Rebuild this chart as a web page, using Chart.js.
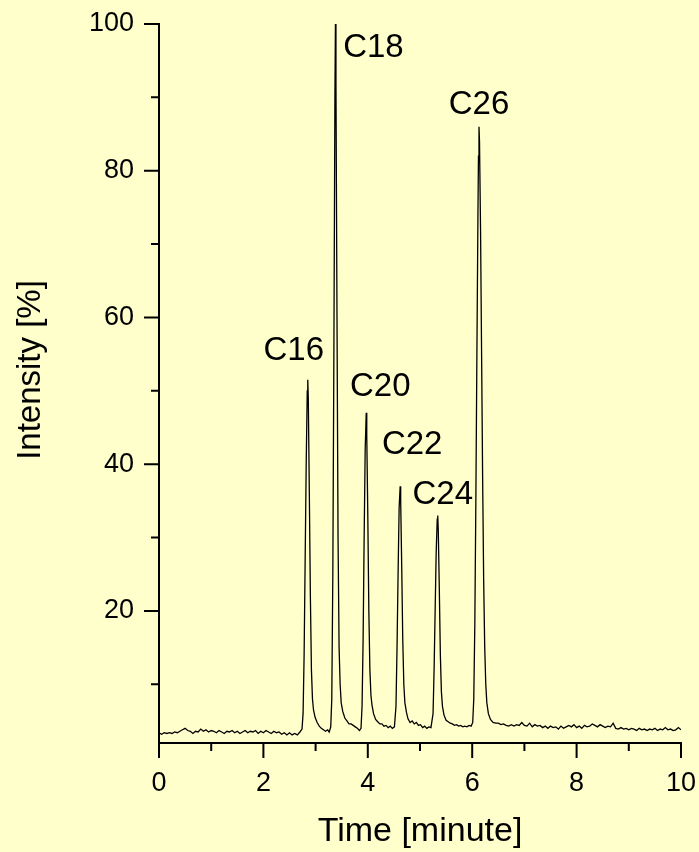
<!DOCTYPE html>
<html>
<head>
<meta charset="utf-8">
<title>Chromatogram</title>
<script src="https://cdn.jsdelivr.net/npm/chart.js@4"></script>
<style>
  html, body { margin: 0; padding: 0; background: #FFFFCC; }
  canvas { display: block; }
</style>
</head>
<body>
<canvas id="chromChart" width="699" height="852"></canvas>
<script>
// retention time [minute]
const times = [
  0.00, 0.05, 0.10, 0.15, 0.20, 0.25, 0.30, 0.35, 0.40, 0.45,
  0.50, 0.55, 0.60, 0.65, 0.70, 0.75, 0.80, 0.85, 0.90, 0.95,
  1.00, 1.05, 1.10, 1.15, 1.20, 1.25, 1.30, 1.35, 1.40, 1.45,
  1.50, 1.55, 1.60, 1.65, 1.70, 1.75, 1.80, 1.85, 1.90, 1.95,
  2.00, 2.05, 2.10, 2.15, 2.20, 2.25, 2.30, 2.35, 2.40, 2.45,
  2.50, 2.55, 2.60, 2.65, 2.70, 2.74,
  // C16
  2.76, 2.78, 2.80, 2.82, 2.84, 2.85, 2.86, 2.88, 2.90, 2.92, 2.94, 2.96, 2.99,
  3.03, 3.07, 3.11, 3.15, 3.19, 3.23, 3.26, 3.29,
  // C18
  3.31, 3.33, 3.35, 3.37, 3.38, 3.39, 3.41, 3.43, 3.45, 3.47, 3.49, 3.52,
  3.56, 3.60, 3.64, 3.68, 3.72, 3.76, 3.80, 3.84, 3.87,
  // C20
  3.89, 3.91, 3.93, 3.95, 3.97, 3.98, 4.00, 4.02, 4.04, 4.06, 4.08, 4.11,
  4.15, 4.19, 4.23, 4.27, 4.31, 4.35, 4.39, 4.43, 4.47, 4.51,
  // C22
  4.54, 4.56, 4.58, 4.60, 4.62, 4.63, 4.65, 4.67, 4.69, 4.71, 4.74, 4.77,
  4.81, 4.85, 4.89, 4.93, 4.97, 5.01, 5.05, 5.09, 5.13, 5.17, 5.21,
  // C24
  5.25, 5.27, 5.29, 5.31, 5.33, 5.34, 5.35, 5.37, 5.39, 5.41, 5.43, 5.46,
  5.50, 5.54, 5.58, 5.62, 5.66, 5.70, 5.74, 5.78, 5.82, 5.86, 5.90, 5.94, 5.98, 6.01,
  // C26
  6.03, 6.05, 6.07, 6.09, 6.11, 6.12, 6.13, 6.14, 6.16, 6.18, 6.20, 6.22, 6.24,
  6.26, 6.28, 6.31, 6.35, 6.40, 6.45,
  6.50, 6.55, 6.60, 6.65, 6.70, 6.75, 6.80, 6.85, 6.90, 6.95,
  7.00, 7.05, 7.10, 7.15, 7.20, 7.25, 7.30, 7.35, 7.40, 7.45,
  7.50, 7.55, 7.60, 7.65, 7.70, 7.75, 7.80, 7.85, 7.90, 7.95,
  8.00, 8.05, 8.10, 8.15, 8.20, 8.25, 8.30, 8.35, 8.40, 8.45,
  8.50, 8.55, 8.60, 8.65, 8.70, 8.75, 8.80, 8.85, 8.90, 8.95,
  9.00, 9.05, 9.10, 9.15, 9.20, 9.25, 9.30, 9.35, 9.40, 9.45,
  9.50, 9.55, 9.60, 9.65, 9.70, 9.75, 9.80, 9.85, 9.90, 9.95, 10.00
];

// intensity [%]
const intensity = [
  3.4, 3.2, 3.4, 3.3, 3.4, 3.3, 3.5, 3.4, 3.6, 3.8,
  4.0, 3.7, 3.6, 3.3, 3.6, 3.5, 3.9, 3.6, 3.8, 3.5,
  3.7, 3.6, 3.4, 3.7, 3.5, 3.3, 3.6, 3.5, 3.7, 3.4,
  3.6, 3.3, 3.5, 3.7, 3.4, 3.6, 3.5, 3.7, 3.3, 3.6,
  3.4, 3.7, 3.5, 3.3, 3.6, 3.4, 3.5, 3.2, 3.4, 3.1,
  3.4, 3.1, 3.3, 3.1, 3.5, 3.9,
  6, 14, 27, 40, 50, 51.5, 49, 36, 22, 12, 8, 6.5, 5.5,
  4.8, 4.3, 4.0, 3.8, 3.6, 3.8, 3.5, 4.2,
  8, 25, 55, 90, 100, 92, 60, 30, 15, 10, 7.5, 6.3,
  5.4, 5.0, 4.6, 4.6, 4.4, 4.2, 4.0, 3.7, 4.0,
  7, 16, 30, 42, 47, 44, 33, 20, 12, 8.5, 7.2, 6.0,
  5.2, 4.9, 4.6, 4.6, 4.3, 4.4, 4.1, 4.3, 4.0, 4.2,
  7, 15, 25, 34, 37, 35, 26, 16, 10, 7.5, 6.2, 5.3,
  4.8, 5.0, 4.6, 4.8, 4.4, 4.5, 4.1, 4.3, 4.0, 4.2, 4.1,
  6, 12, 20, 28, 32.5, 33, 31, 23, 14, 9, 7, 5.8,
  5.1, 4.9, 4.7, 4.6, 4.4, 4.5, 4.3, 4.4, 4.2, 4.3, 4.2, 4.4, 4.3, 4.8,
  8, 18, 35, 55, 74, 82, 86, 84, 72, 55, 38, 24, 15,
  10, 7.5, 6.0, 5.2, 4.8, 4.7,
  4.7, 4.5, 4.6, 4.4, 4.3, 4.5, 4.3, 4.5, 4.4, 4.8,
  4.4, 4.3, 4.7, 4.2, 4.5, 4.3, 4.4, 4.1, 4.3, 4.0,
  4.3, 4.1, 4.2, 3.9, 4.3, 4.0, 4.2, 4.4, 4.2, 4.5,
  4.1, 4.3, 4.0, 4.4, 4.2, 4.3, 4.6, 4.4, 4.2, 4.5,
  4.3, 4.1, 4.3, 4.2, 4.7, 4.0, 3.9, 4.1, 3.9, 4.0,
  3.8, 4.0, 3.9, 3.7, 4.0, 3.8, 3.9, 3.7, 3.9, 3.8,
  4.0, 3.7, 3.9, 3.8, 4.1, 3.8, 3.9, 3.7, 3.8, 4.1, 3.8
];

// peak annotations
const peakNames = ['C16', 'C18', 'C20', 'C22', 'C24', 'C26'];
const peakTimes = [2.85, 3.38, 3.97, 4.62, 5.34, 6.13];
const peakHeights = [51.5, 100, 47, 37, 33, 86];

const xTicksMajor = [0, 2, 4, 6, 8, 10];
const yTicksMajor = [20, 40, 60, 80, 100];

// label offsets from the peak apex, in pixels
const labelOffsets = [[-14, -29], [38, 24], [14, -26], [12, -41], [5, -21], [0, -22]];

const FONT = "'Liberation Sans', Arial, sans-serif";
const BG = '#FFFFCC';

const background = {
  id: 'background',
  beforeDraw(chart) {
    const { ctx, width, height } = chart;
    ctx.save();
    ctx.fillStyle = BG;
    ctx.fillRect(0, 0, width, height);
    ctx.restore();
  }
};

// outward tick marks, long for labelled values, short for the in-between ones
const tickMarks = {
  id: 'tickMarks',
  afterDraw(chart) {
    const { ctx, scales: { x, y } } = chart;
    ctx.save();
    ctx.strokeStyle = '#000';
    ctx.lineWidth = 2;
    ctx.beginPath();
    x.ticks.forEach(t => {
      const px = x.getPixelForValue(t.value);
      const len = xTicksMajor.includes(t.value) ? 15 : 8;
      ctx.moveTo(px, x.top);
      ctx.lineTo(px, x.top + len);
    });
    y.ticks.forEach(t => {
      if (t.value % 10 !== 0) return;
      const py = y.getPixelForValue(t.value);
      const len = yTicksMajor.includes(t.value) ? 15 : 8;
      ctx.moveTo(y.right, py);
      ctx.lineTo(y.right - len, py);
    });
    ctx.stroke();

    // y axis title, centred a little above the middle of the axis as in the original
    ctx.fillStyle = '#000';
    ctx.font = `33px ${FONT}`;
    ctx.textAlign = 'center';
    ctx.textBaseline = 'middle';
    ctx.translate(31, 370);
    ctx.rotate(-Math.PI / 2);
    ctx.fillText('Intensity [%]', 0, 0);
    ctx.restore();
  }
};

const peakLabels = {
  id: 'peakLabels',
  afterDatasetsDraw(chart) {
    const { ctx, scales: { x, y } } = chart;
    ctx.save();
    ctx.fillStyle = '#000';
    ctx.font = `33px ${FONT}`;
    ctx.textAlign = 'center';
    ctx.textBaseline = 'middle';
    peakNames.forEach((name, i) => {
      const px = x.getPixelForValue(peakTimes[i]) + labelOffsets[i][0];
      const py = y.getPixelForValue(peakHeights[i]) + labelOffsets[i][1];
      ctx.fillText(name, px, py);
    });
    ctx.restore();
  }
};

document.addEventListener('DOMContentLoaded', () => {
  Chart.defaults.font.family = FONT;
  Chart.defaults.color = '#000';

  const ctx = document.getElementById('chromChart').getContext('2d');
  new Chart(ctx, {
    type: 'line',
    data: {
      datasets: [{
        data: times.map((t, i) => ({ x: t, y: intensity[i] })),
        borderColor: '#000',
        borderWidth: 1.3,
        pointRadius: 0,
        tension: 0,
        fill: false
      }]
    },
    options: {
      responsive: false,
      animation: false,
      layout: { padding: { top: 24, right: 18, bottom: 0, left: 0 } },
      plugins: {
        legend: { display: false },
        tooltip: { enabled: false }
      },
      scales: {
        x: {
          type: 'linear',
          min: 0,
          max: 10,
          afterFit: (scale) => {
            scale.height = 109;
            scale.paddingLeft = 0;
            scale.paddingRight = 0;
          },
          grid: { display: true, drawOnChartArea: false, drawTicks: false },
          border: { display: true, color: '#000', width: 2 },
          ticks: {
            stepSize: 1,
            autoSkip: false,
            maxRotation: 0,
            padding: 24,
            font: { size: 27 },
            callback: (v) => xTicksMajor.includes(v) ? String(v) : ''
          },
          title: {
            display: true,
            text: 'Time [minute]',
            font: { size: 34 },
            padding: { top: 0, bottom: 0 }
          }
        },
        y: {
          min: 2,
          max: 100,
          afterFit: (scale) => {
            scale.width = 159;
            scale.paddingTop = 0;
            scale.paddingBottom = 0;
          },
          grid: { display: true, drawOnChartArea: false, drawTicks: false },
          border: { display: true, color: '#000', width: 2 },
          ticks: {
            stepSize: 10,
            autoSkip: false,
            padding: 25,
            font: { size: 27 },
            callback: (v) => yTicksMajor.includes(v) ? String(v) : ''
          },
          title: { display: false }
        }
      }
    },
    plugins: [background, tickMarks, peakLabels]
  });
});
</script>
</body>
</html>
